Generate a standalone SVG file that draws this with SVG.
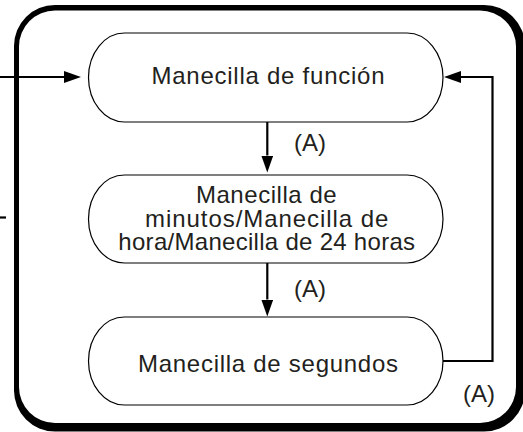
<svg xmlns="http://www.w3.org/2000/svg" width="523" height="432" viewBox="0 0 523 432">
<style>
.node{fill:#fff;stroke:#000;stroke-width:1.2}
.txt{font-family:"Liberation Sans",Arial,Helvetica,sans-serif;font-size:24px;fill:#231f20;text-anchor:middle}
.conn{fill:none;stroke:#000;stroke-width:2.2}
</style>
<defs>
<marker id="ah" markerUnits="userSpaceOnUse" viewBox="0 0 17 12" markerWidth="17" markerHeight="12" refX="0" refY="6" orient="auto">
<path d="M0,0 L17,6 L0,12 Z" fill="#000"/>
</marker>
</defs>
<g id="frame">
<path fill="#000" fill-rule="evenodd" d="M55,5 H484 A41,41 0 0 1 525,46 V390.5 A41,41 0 0 1 484,431.5 H55 A41,41 0 0 1 14,390.5 V46 A41,41 0 0 1 55,5 Z M55,10.5 H480 A36,36 0 0 1 516,46.5 V387 A36,36 0 0 1 480,423 H55 A36,36 0 0 1 19,387 V46.5 A36,36 0 0 1 55,10.5 Z"/>
</g>
<g id="connectors">
<line class="conn" x1="0" y1="77" x2="64" y2="77" marker-end="url(#ah)"/>
<line class="conn" x1="0" y1="217.5" x2="6" y2="217.5"/>
<line class="conn" x1="267.3" y1="122" x2="267.3" y2="155.5" marker-end="url(#ah)"/>
<line class="conn" x1="267.3" y1="263" x2="267.3" y2="299.5" marker-end="url(#ah)"/>
<path class="conn" d="M443,361 H492.5 V77 H461" marker-end="url(#ah)"/>
</g>
<g id="node-funcion">
<rect class="node" x="88.5" y="33" width="354.5" height="89" rx="36" ry="44.5"/>
<text class="txt" x="268" y="83.5" textLength="233">Manecilla de función</text>
</g>
<g id="node-minutos">
<rect class="node" x="88.5" y="175" width="354.5" height="88" rx="36" ry="44"/>
<text class="txt" x="266.3" y="203" textLength="140.7">Manecilla de</text>
<text class="txt" x="266.7" y="226.5" textLength="243.3">minutos/Manecilla de</text>
<text class="txt" x="266.7" y="250" textLength="296.7">hora/Manecilla de 24 horas</text>
</g>
<g id="node-segundos">
<rect class="node" x="88.5" y="317" width="354.5" height="88" rx="36" ry="44"/>
<text class="txt" x="268" y="371.7" textLength="260">Manecilla de segundos</text>
</g>
<g id="labels">
<text class="txt" x="310" y="150.5">(A)</text>
<text class="txt" x="310" y="296.5">(A)</text>
<text class="txt" x="479" y="401.5">(A)</text>
</g>
</svg>
